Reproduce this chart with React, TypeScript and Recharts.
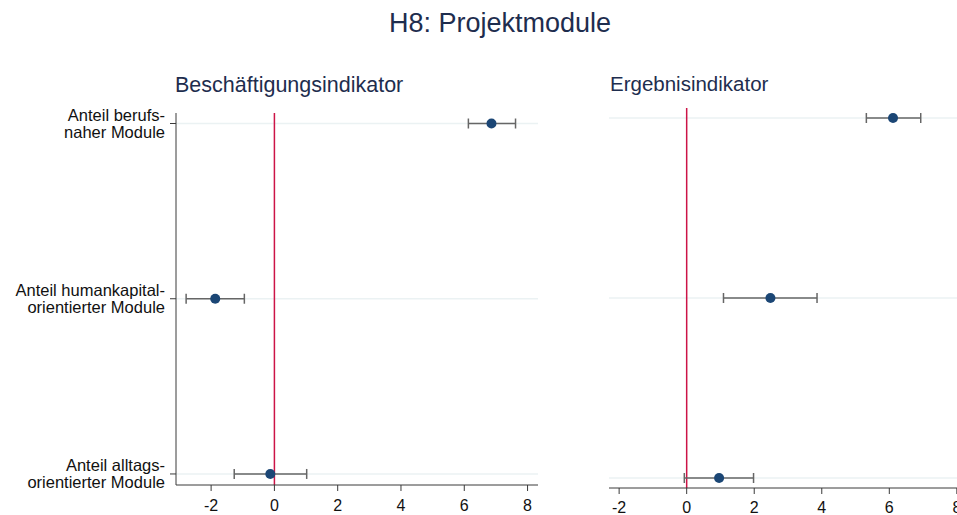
import React from 'react';
import { ScatterChart, Scatter, XAxis, YAxis, ErrorBar, ReferenceLine } from 'recharts';

// category labels (two lines each), top to bottom
const categories: string[][] = [
  ['Anteil berufs-', 'naher Module'],
  ['Anteil humankapital-', 'orientierter Module'],
  ['Anteil alltags-', 'orientierter Module'],
];
const xTicks = [-2, 0, 2, 4, 6, 8];

// Beschäftigungsindikator: estimate + confidence interval
const beschEst = [6.86, -1.87, -0.13];
const beschLow = [6.13, -2.79, -1.27];
const beschHigh = [7.62, -0.95, 1.02];

// Ergebnisindikator
const ergEst = [6.11, 2.48, 0.96];
const ergLow = [5.32, 1.09, -0.07];
const ergHigh = [6.93, 3.86, 1.98];

const FONT = '"Liberation Sans", Arial, sans-serif';
const NAVY = '#1e2d4e';
const DOT = '#1b4675';
const RED = '#cc1447';
const GRID = '#ebf2f3';
const AXIS = '#3a3a3a';

const buildRows = (est: number[], lo: number[], hi: number[]) =>
  est.map((v, i) => ({ row: i, est: v, err: [v - lo[i], hi[i] - v] }));

const beschData = buildRows(beschEst, beschLow, beschHigh);
const ergData = buildRows(ergEst, ergLow, ergHigh);

function CategoryTick({ x, y, payload }: any) {
  const lines = categories[payload.value] ?? [];
  return (
    <g>
      <text x={x} y={y - 2.5} textAnchor="end" fontSize={16.5} fill="#111" fontFamily={FONT}>
        {lines[0]}
      </text>
      <text x={x} y={y + 14.5} textAnchor="end" fontSize={16.5} fill="#111" fontFamily={FONT}>
        {lines[1]}
      </text>
    </g>
  );
}

const Dot = (p: any) => <circle cx={p.cx} cy={p.cy} r={5} fill={DOT} />;

interface PanelProps {
  data: { row: number; est: number; err: number[] }[];
  width: number;
  height: number;
  margin: { top: number; right: number; bottom: number; left: number };
  xDomain: [number, number];
  yDomain: [number, number];
  showY: boolean;
  tickMargin: number;
  xAxisHeight: number;
}

function Panel({ data, width, height, margin, xDomain, yDomain, showY, tickMargin, xAxisHeight }: PanelProps) {
  return (
    <ScatterChart width={width} height={height} margin={margin}>
      {categories.map((_, i) => (
        <ReferenceLine key={i} y={i} stroke={GRID} strokeWidth={1.5} />
      ))}
      <XAxis
        type="number"
        dataKey="est"
        domain={xDomain}
        allowDataOverflow
        ticks={xTicks}
        height={xAxisHeight}
        tickSize={6}
        tickMargin={tickMargin}
        stroke={AXIS}
        tick={{ fill: '#111', fontSize: 16 }}
      />
      <YAxis
        type="number"
        dataKey="row"
        domain={yDomain}
        allowDataOverflow
        reversed
        ticks={[0, 1, 2]}
        width={showY ? 170 : 0}
        hide={!showY}
        tickSize={6}
        tickMargin={5}
        stroke={AXIS}
        tick={<CategoryTick />}
      />
      <ReferenceLine x={0} stroke={RED} strokeWidth={1.5} />
      <Scatter data={data} shape={Dot} isAnimationActive={false}>
        <ErrorBar dataKey="err" direction="x" width={5} stroke="#666" strokeWidth={1.5} />
      </Scatter>
    </ScatterChart>
  );
}

export default function App() {
  return (
    <div
      style={{
        position: 'absolute',
        left: 0,
        top: 0,
        width: 957,
        height: 515,
        overflow: 'hidden',
        background: '#fff',
        fontFamily: FONT,
      }}
    >
      <svg width={957} height={515} style={{ position: 'absolute', left: 0, top: 0 }}>
        <text x={500} y={31.5} textAnchor="middle" fontSize={27} fill={NAVY}>
          H8: Projektmodule
        </text>
        <text x={175} y={91.7} fontSize={21.5} fill={NAVY}>
          Beschäftigungsindikator
        </text>
        <text x={610} y={91} fontSize={20.5} fill={NAVY}>
          Ergebnisindikator
        </text>
      </svg>
      <div style={{ position: 'absolute', left: 0, top: 0 }}>
        <Panel
          data={beschData}
          width={560}
          height={515}
          margin={{ top: 113, right: 22, bottom: 0, left: 6 }}
          xDomain={[-3.11, 8.33]}
          yDomain={[-0.06, 2.063]}
          showY
          tickMargin={9}
          xAxisHeight={30}
        />
      </div>
      <div style={{ position: 'absolute', left: 560, top: 0 }}>
        <Panel
          data={ergData}
          width={418}
          height={515}
          margin={{ top: 108, right: 10, bottom: 0, left: 49 }}
          xDomain={[-2.3, 8.33]}
          yDomain={[-0.0556, 2.0556]}
          showY={false}
          tickMargin={8}
          xAxisHeight={27}
        />
      </div>
    </div>
  );
}
